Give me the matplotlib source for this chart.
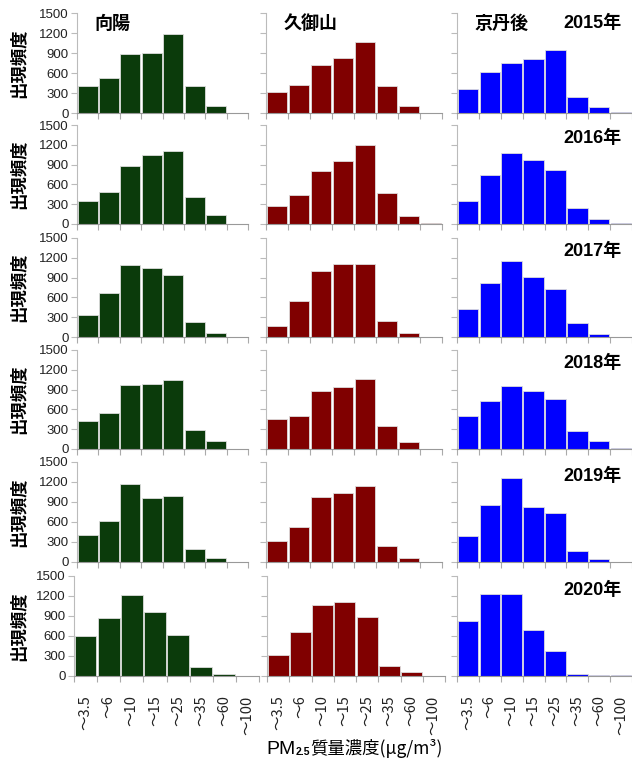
import matplotlib
matplotlib.use("Agg")
import matplotlib.pyplot as plt
import numpy as np

plt.rcParams['font.family'] = ['Liberation Sans', 'Noto Sans CJK JP', 'DejaVu Sans']

# data
categories = ["〜3.5", "〜6", "〜10", "〜15", "〜25", "〜35", "〜60", "〜100"]
years = ["2015年", "2016年", "2017年", "2018年", "2019年", "2020年"]
stations = ["向陽", "久御山", "京丹後"]

mukaihi = [
    [400, 530, 890, 905, 1180, 400, 110, 0],
    [350, 480, 875, 1040, 1105, 415, 130, 0],
    [340, 665, 1085, 1040, 940, 220, 65, 0],
    [420, 545, 965, 990, 1045, 290, 125, 0],
    [400, 615, 1170, 955, 990, 200, 55, 0],
    [605, 865, 1215, 955, 620, 130, 25, 0],
]
kumiyama = [
    [310, 420, 725, 830, 1065, 410, 100, 0],
    [270, 445, 800, 960, 1190, 465, 125, 10],
    [165, 550, 1005, 1100, 1110, 250, 60, 0],
    [460, 505, 875, 935, 1065, 345, 105, 0],
    [315, 520, 975, 1040, 1140, 240, 65, 0],
    [315, 660, 1065, 1105, 890, 145, 55, 0],
]
kyotango = [
    [360, 610, 755, 805, 950, 240, 85, 15],
    [355, 740, 1080, 965, 820, 245, 75, 10],
    [425, 825, 1155, 910, 725, 205, 45, 0],
    [495, 725, 960, 880, 765, 270, 125, 10],
    [390, 860, 1260, 825, 730, 165, 50, 0],
    [825, 1235, 1225, 685, 375, 35, 10, 10],
]
station_data = [mukaihi, kumiyama, kyotango]
colors = ["#0b3b0b", "#800000", "#0000ff"]

W, H = 632, 763
fig = plt.figure(figsize=(W / 100, H / 100), dpi=100)

rows_tb = [(13, 113), (125, 224), (238, 337), (350, 449), (462, 562), (576, 676)]
cols_lr = [(77, 248), (266, 442), (457, 632)]
cols_lr_last = [(74, 259), (267, 445), (457, 632)]

n = len(categories)
xpos = np.arange(n) + 0.5

for r, (top, bot) in enumerate(rows_tb):
    cl = cols_lr_last if r == len(rows_tb) - 1 else cols_lr
    # y label for the row
    fig.text(19 / W, 1 - (top + bot) / 2 / H, "出現頻度", rotation=90,
             ha='center', va='center', fontsize=12.5, fontweight='bold',
             family=['Noto Sans CJK JP'])
    for c, (left, right) in enumerate(cl):
        ax = fig.add_axes([left / W, 1 - bot / H, (right - left) / W, (bot - top) / H])
        ax.bar(xpos, station_data[c][r], width=0.94, color=colors[c],
               edgecolor='#dddddd', linewidth=0.6)
        ax.set_xlim(0, n)
        ax.set_ylim(0, 1500)
        for s in ['top', 'right']:
            ax.spines[s].set_visible(False)
        ax.spines['left'].set_color('#bbbbbb')
        ax.spines['bottom'].set_color('#999999')
        ax.set_yticks(range(0, 1501, 300))
        ax.tick_params(axis='y', length=4, color='#bbbbbb', labelsize=9.5,
                       labelcolor='#222222', pad=2)
        ax.set_xticks(range(0, n + 1))
        ax.tick_params(axis='x', which='major', length=4, color='#aaaaaa',
                       labelbottom=False)
        if c != 0:
            ax.tick_params(axis='y', labelleft=False)
        if r == len(rows_tb) - 1:
            ax.set_xticks(xpos, minor=True)
            ax.set_xticklabels(categories, minor=True, rotation=90,
                               family=['Noto Sans CJK JP'], fontsize=10.5)
            ax.tick_params(axis='x', which='minor', length=0, pad=14,
                           labelcolor='#222222')
        if c == 2:
            ax.text(0.94, 0.86 if r > 0 else 0.9, years[r], transform=ax.transAxes,
                    ha='right', va='center', fontsize=13, fontweight='bold')
        if r == 0:
            ax.text(0.1, 0.9, stations[c], transform=ax.transAxes,
                    ha='left', va='center', fontsize=13, fontweight='bold',
                    family=['Noto Sans CJK JP'])

# x axis label: PM2.5質量濃度(μg/m³)
t1 = fig.text(266 / W, 1 - 750 / H, "PM", ha='left', va='center', fontsize=14)
t2 = plt.annotate("2.5", xy=(1, 0.1), xycoords=t1, ha='left', va='bottom',
                  fontsize=7.5, fontweight='bold', annotation_clip=False)
t3 = plt.annotate("質量濃度(μg/m³)", xy=(1, -0.15), xycoords=t2, ha='left',
                  va='bottom', fontsize=12.5, family=['Noto Sans CJK JP'],
                  annotation_clip=False)

fig.savefig("out.png", dpi=100)
